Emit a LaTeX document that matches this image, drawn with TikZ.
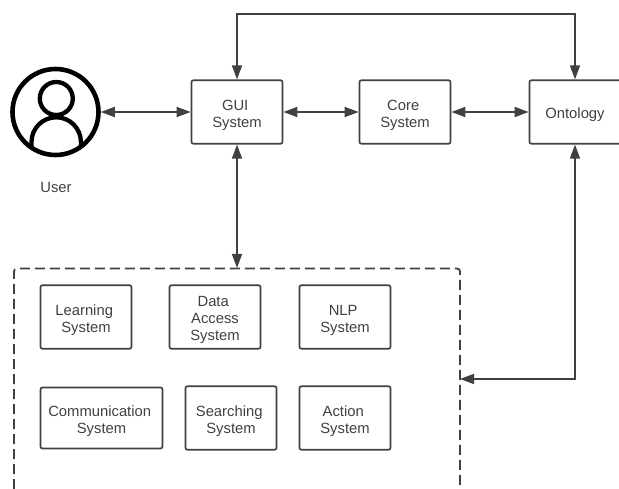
\documentclass[tikz,border=0pt]{standalone}
\usepackage{fontspec}
\setmainfont{Liberation Sans}
\usetikzlibrary{arrows.meta}
\definecolor{inkgrey}{HTML}{404040}
\newcommand{\brk}{\hspace*{3.6pt}\\}
\newcommand{\topln}{\rule{0pt}{16.5pt}}
\tikzset{
    sysbox/.style={draw=inkgrey, line width=1.7pt, rounded corners=2pt, minimum width=91pt, minimum height=63.5pt, inner sep=0pt, align=center, text=inkgrey, font=\fontsize{14.8pt}{16.8pt}\selectfont},
    link/.style={draw=inkgrey, line width=1.5pt, {Triangle[length=14pt, width=10pt]}-{Triangle[length=14pt, width=10pt]}},
    iconline/.style={line width=4.3pt, black}
}
\begin{document}
\begin{tikzpicture}[x=1pt, y=-1pt]
    \useasboundingbox (0, 0) rectangle (619, 489);

    % top row
    \node[circle, draw=black, line width=4.6pt, minimum size=86pt, inner sep=0pt] (user) at (55.5, 112){};
        \draw[iconline] (56.3, 98.5) circle (16.5);
        \draw[iconline] (31.5, 147) -- (31.5, 142) arc (180:360:24.7) -- (80.9, 147);
        \node[text=inkgrey, font=\fontsize{14.8pt}{16.8pt}\selectfont, inner sep=0pt] (userlabel) at (56, 187.5){User};
    \node[sysbox] (gui) at (237, 112){\topln GUI\brk System};
    \node[sysbox] (core) at (405, 112){\topln Core\brk System};
    \node[sysbox] (ontology) at (575, 112){\topln Ontology};

    % dashed frame, open at the bottom
    \draw[inkgrey, line width=1.8pt, dash pattern=on 10pt off 5pt, rounded corners=3pt] (14, 489) -- (14, 268.5) -- (460, 268.5) -- (460, 489);
    \coordinate (frametop) at (237, 268);
    \coordinate (frameright) at (460, 379);
    \coordinate (toprail) at (405, 14);

    % inner systems
    \node[sysbox] (learning) at (86, 317){\topln Learning\brk System};
    \node[sysbox] (data) at (215, 317){\topln Data\brk Access\brk System};
    \node[sysbox] (nlp) at (345, 317){\topln NLP\brk System};
    \node[sysbox, minimum width=122pt, minimum height=61pt] (comm) at (101.5, 418){\topln Communication\brk System};
    \node[sysbox] (search) at (231, 418){\topln Searching\brk System};
    \node[sysbox] (action) at (345, 418){\topln Action\brk System};

    % connectors
    \draw[link] (user) -- (gui);
    \draw[link] (gui) -- (core);
    \draw[link] (core) -- (ontology);
    \draw[link] (gui.north) |- (toprail) -| (ontology.north);
    \draw[link] (gui.south) -- (frametop);
    \draw[link] (ontology.south) |- (frameright);
\end{tikzpicture}
\end{document}
